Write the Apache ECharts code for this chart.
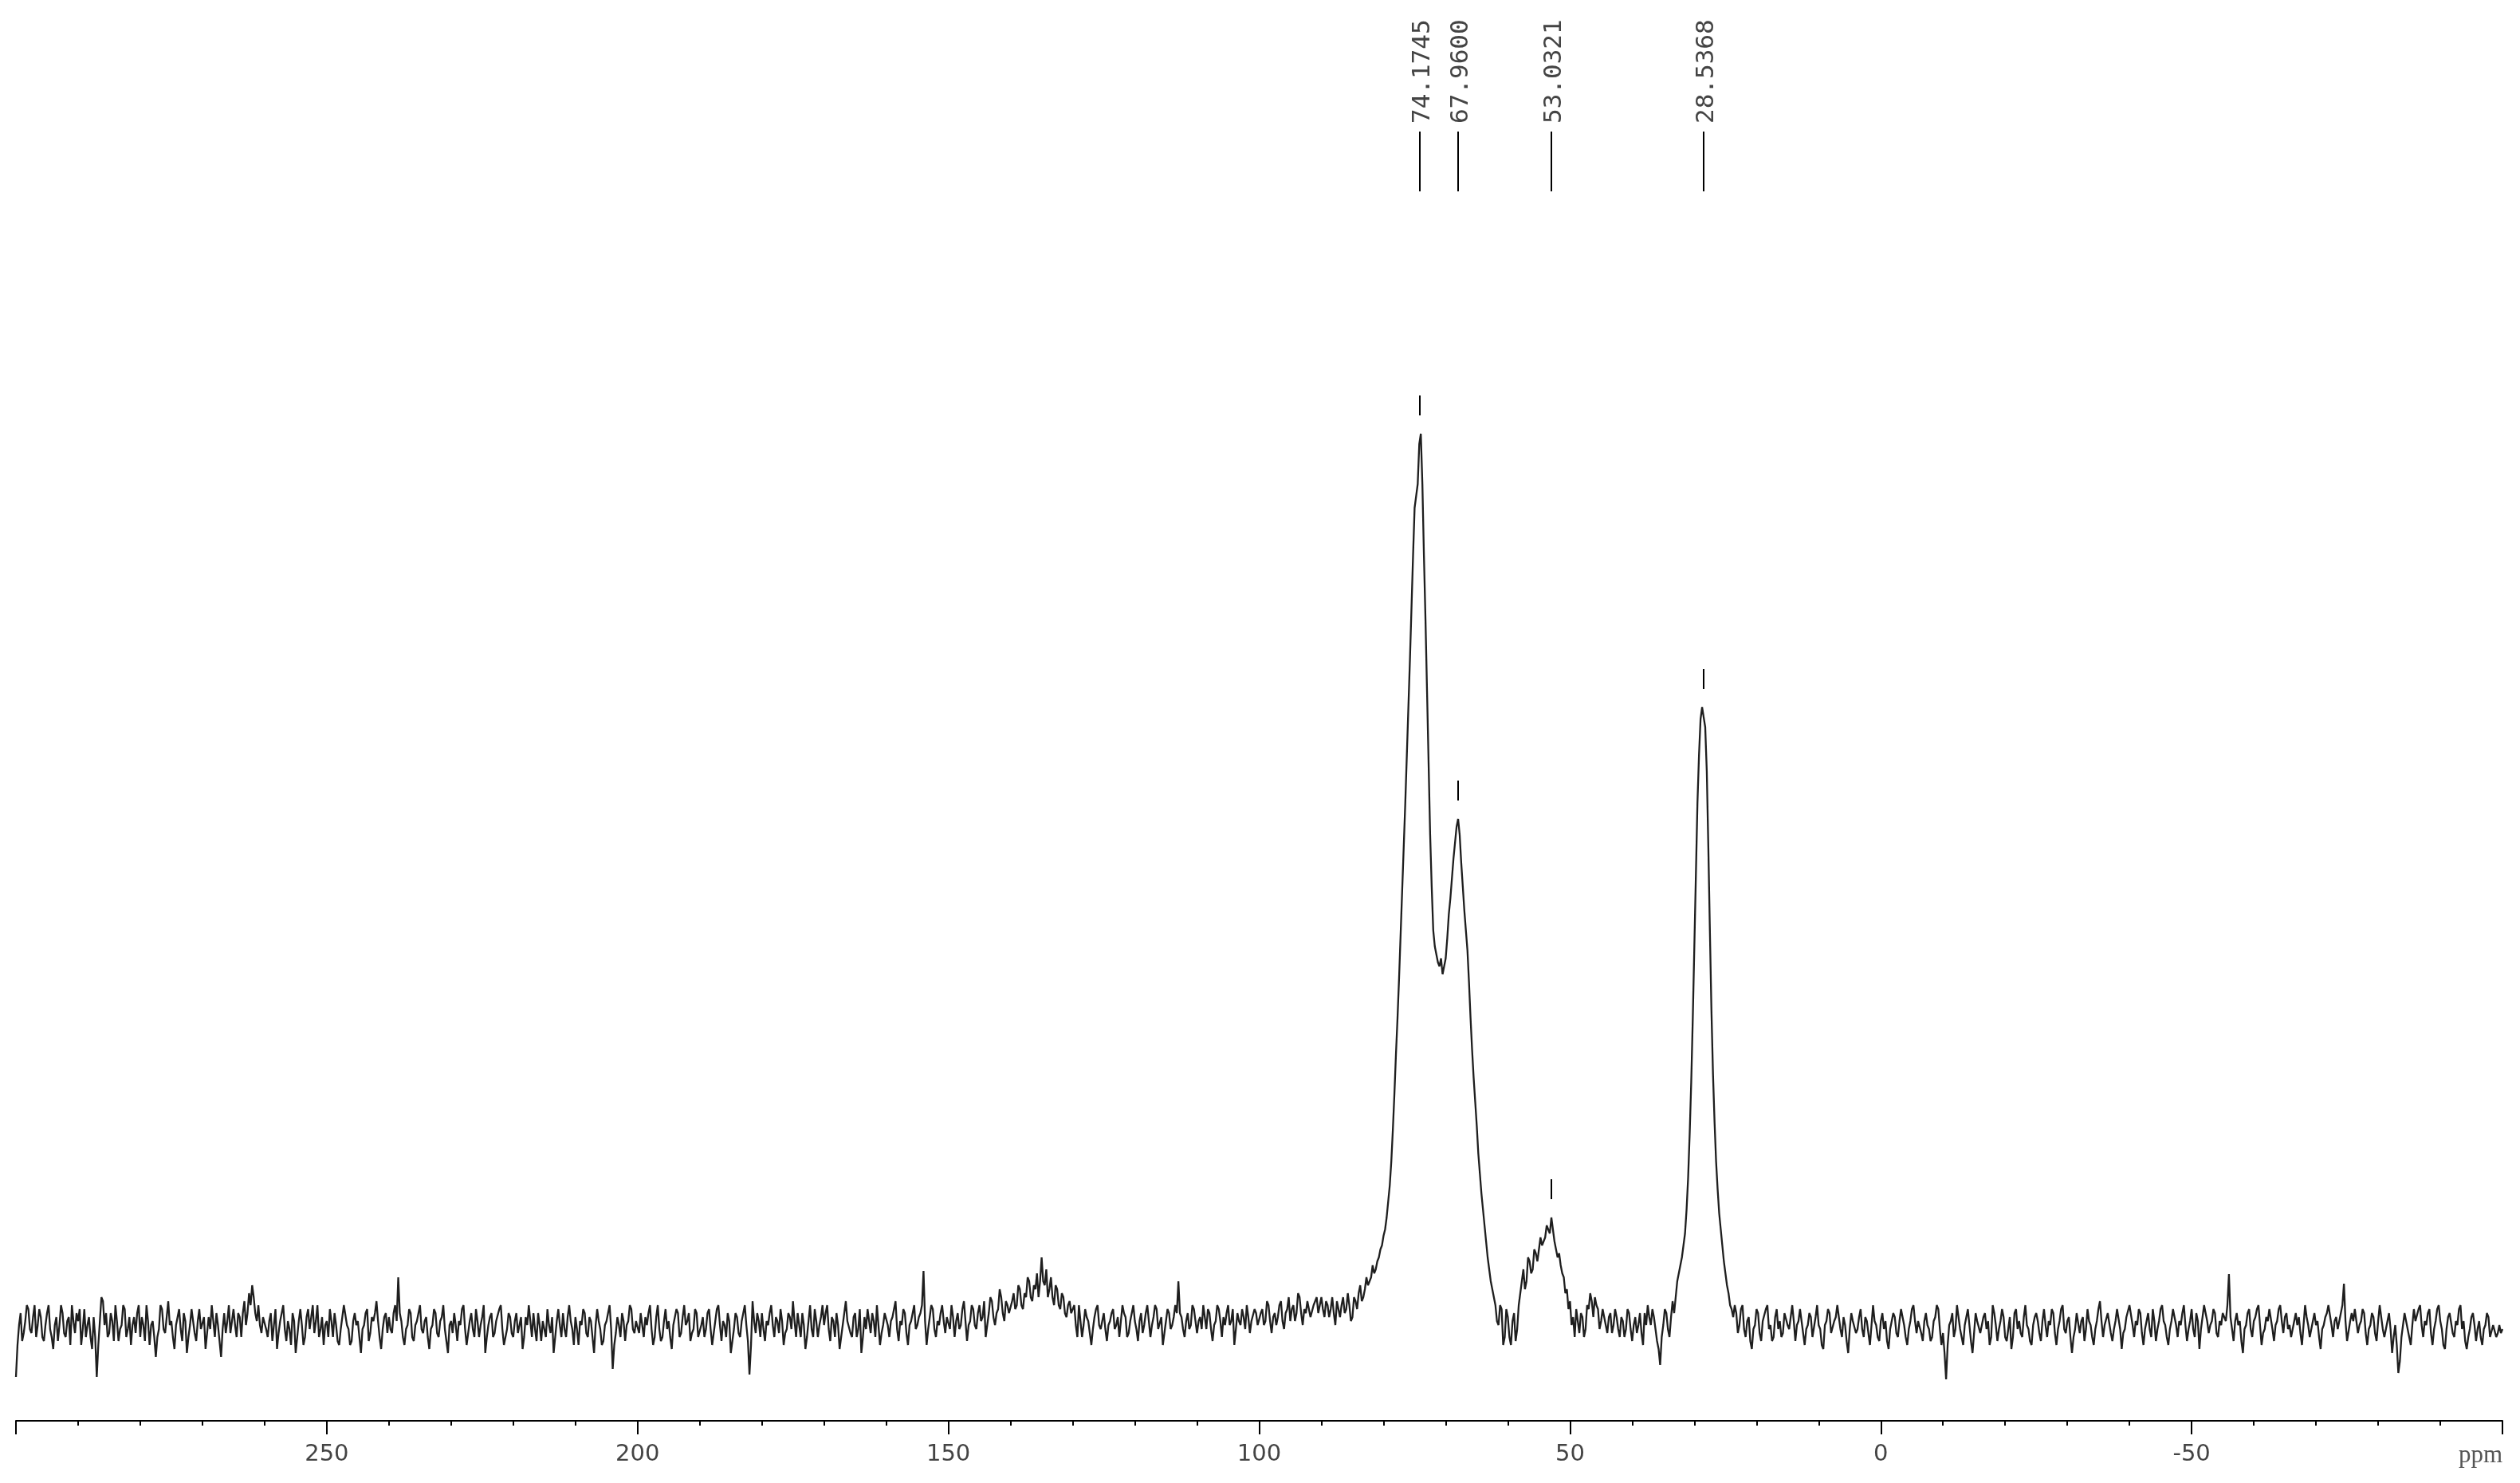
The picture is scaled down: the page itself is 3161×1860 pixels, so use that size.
<!DOCTYPE html>
<html>
<head>
<meta charset="utf-8">
<script src="https://cdn.jsdelivr.net/npm/echarts@6/dist/echarts.min.js"></script>
<style>
  html, body { margin: 0; padding: 0; background: #ffffff; }
  #chart { width: 3161px; height: 1860px; }
</style>
</head>
<body>
<div id="chart"></div>
<script>
// ---- data (intensity in arbitrary units, baseline ~0) ----
const stepPpm = 0.25;

// 300.00 ppm down to 88.25 ppm
const leftStart = 300;
const leftValues = [
  -6, -2, 0.5, 2, -1.5, -0.5, 1, 3, 2.5, 0, -0.5, 1.5, 3, -1, 0.5, 2.5, 1.5, -1, -1.5, 0.5, 2, 3, 0, -1, -2.5, 0.5, 1.5, -1.5, 0.5, 3, 2, -0.5, -1, 1, 1.5, -2, 3, 1, -0.5, 2,
  1, 2.5, -2, 0, 2.5, -1, 0.5, 1.5, -1, -2.5, 1.5, -1, -6, -2, 1, 4, 3.5, 0.5, 2, -1, -0.5, 2, 1, -1.5, 3, 1, -1.5, 0, 0.5, 3, 2.5, -1, 0, 1.5, -2, 0.5, 1.5, -0.5, 2, 3,
  -1, 1.5, 0.5, -1.5, 3, 1, -2, 0.5, 1, -1, -3.5, -1, 0, 3, 2.5, 0, -0.5, 1.5, 3.5, 0.5, 1, -1, -2.5, 0.5, 1.5, 2.5, 0, -1.5, 2, 1, -3, -1, 0.5, 2.5, 1, -0.5, -1.5, 1, 2.5, 0,
  0, 1.5, -2.5, -0.5, 1.5, 0, 3, 1, -1, 2, 0.5, -1.5, -3.5, 0, 2, -0.5, 1, 3, -0.5, 1, 2.5, 0.5, -1, 2, 1.5, -1, 2, 3.5, 0.5, 2, 4.5, 3, 5.5, 4, 2, 1, 3, 0.5, -0.5, 1.5,
  1.5, 0, -1, 1, 2, -1.5, 0.5, 2.5, -2.5, -0.5, 1, 2, 3, 0, -1.5, 1, 0, -2, 2, 1, -3, -1, 1, 2.5, 0.5, -2, -1, 1.5, 2.5, 0, 1.5, 3, -0.5, 1, 3, -1, 0, 1.5, -2, 0.5,
  1, -1, 2.5, 1, -1, 2, 0.5, -1.5, -2, 0, 1.5, 3, 3, 0.5, 0, -2, -1.5, 1, 2, 0.5, 1, -1, -3, 0, 0.5, 2, 2.5, -1.5, -0.5, 1.5, 1, 2, 3.5, 1, -1, -2.5, 0, 1.5, 2, -0.5,
  1.5, 0, -0.5, 2, 3, 1, 6.5, 2, 1, -1, -2, 0, 0.5, 2.5, 2, -1, -1.5, 0.5, 1, 2, 3, 0, -0.5, 1, 1.5, -1, -2.5, 0, 0.5, 2.5, 2, -0.5, -1, 1, 1.5, 3, 0, -1.5, -3, 0.5,
  1, -0.5, 2, 0.5, -1.5, 1, 0.5, 2.5, 3, 0, -2, -0.5, 1, 2, 0, -1, 2.5, 1, -1, 0.5, 1.5, 3, -3, -1, 0.5, 1.5, 2, -1, -0.5, 1, 1, 2.5, 3, 0, -2, -1, 0, 2, 1.5, -0.5,
  -1, 1, 2, -0.5, 0.5, 1.5, -2.5, -1, 1.5, 0.5, 3, 1, -1, 2, 0, -1.5, 2, 0.5, -1.5, 1, 1, -1, 2.5, 0.5, -0.5, 1.5, -3, -1, 1, 2.5, 0.5, -1, 2, 0, -1, 1.5, 3, 1, 0, -2,
  1.5, 0, -2, 1, 0.5, 2.5, 2, -0.5, -1, 1.5, 1, -1, -3, 0.5, 2.5, 1, 0, -2, -1.5, 0.5, 1, 2, 3, 0, -5, -2, -0.5, 1.5, 0.5, -1, 2, 1, -1.5, 0.5, 1, 3, 2.5, 0, -0.5, 1,
  1, -0.5, 2, 0.5, -1, 1.5, 0.5, 2, 3, 0, -2, -1, 1.5, 3, 0, -1.5, -1, 1, 2.5, 0, 1, -1, -2.5, 0.5, 0.5, 2.5, 2, -1, -0.5, 1.5, 3, 0.5, 1, 2, -1.5, -0.5, 0, 2.5, 2, -1,
  -1, 0.5, 1.5, -1, 0, 2, 2.5, 0, -2, -0.5, 1, 2.5, 3, 0.5, -1.5, 1, 0.5, -1, 2, 1, -3, -1.5, 0, 2, 1.5, -0.5, -1, 1, 2, 3, 0.5, -1.5, -5.7, -2, 3.5, 1, -0.5, 2, 1, -1,
  2, 0, -1.5, 1, 0.5, 2, 3, 0.5, -1, 1.5, 1, -0.5, 2.5, 1, -2, -0.5, 0, 2, 1.5, 0, 3.5, 1, -1, 2, 0.5, -1, 2, 0.5, -2.5, -1, 1, 3, 0, -1, 2.5, 1, -1, 0.5, 1.5, 3,
  0.5, 2, 3, 0, -1.5, 1.5, 1, -1, 2, 0.5, -2.5, -1, 0.5, 2, 3.5, 1, 1, -0.5, -1, 1.5, 2, -1, 0, 2.5, -3, -1, 1.5, 0, 2.5, 1, -0.5, 2, 1, -1, 3, 0.5, -2, -0.5, 0.5, 2,
  2, 0.5, -1, 1, 1.5, 2.5, 3.5, 0, -1.5, 1, 0.5, 2.5, 2, -0.5, -2, 0.5, 1, 2, 3, 0, 0.5, 1.5, 2, 3, 7.3, 1, -2, 0, 1.5, 3, 2.5, 0, -1, 1, 0.5, 2, 3, 1, -0.5, 1.5,
  1.5, 0, 3, 1.5, -1, 1, 2, 0, 0.5, 2.5, 3.5, 1, -1.5, 0.5, 1, 3, 2.5, 0.5, 0, 2, 3, 1, 1.5, 3.5, -1, 0.5, 2, 4, 3.5, 1.5, 0.5, 2, 2.5, 5, 4, 2, 1, 3.5, 3, 2,
  2, 3.5, 4.5, 2.5, 3, 5.5, 5, 3, 2.5, 4.5, 4, 6.5, 6, 4, 3.5, 5.5, 5, 7, 4, 6, 9, 6, 5.5, 7.5, 4, 5, 6.5, 4, 3, 5.5, 5, 3, 2.5, 4.5, 4, 2, 1.5, 3, 3.5, 2,
  2, 3, 0.5, -1, 3, 1, -1, 0.5, 2.5, 1.5, 1, -0.5, -2, 0, 1.5, 2.5, 3, 0.5, 0, 1, 2, 0, -1.5, 0.5, 1, 2, 2.5, 0, 0.5, 1.5, -1, 1, 3, 2, 1.5, -1, -0.5, 1, 2, 3,
  1, 0, -1.5, 1, 2, -0.5, 0.5, 2, 3, 1, -1, 0.5, 1.5, 3, 2.5, 0, 0, 1.5, -2, -0.5, 1, 2.5, 2, 0, 0.5, 1.5, 3, 2, 6, 2, 1.5, 0, -1, 1, 2, 0, 0.5, 3, 2.5, 1,
  -0.5, 1, 1.5, 0, 3, 1.5, 0, 2.5, 2, 0, -1.5, 0.5, 1, 3, 2.5, 1, -1, 1.5, 0.5, 2, 3, 0.5, 1, 2.5, -2, 0, 2, 1, 0.5, 2.5, 1.5, 0, 3, 1.5, -0.5, 1, 1, 2.5, 2, 0.5,
  0.5, 2, 2.5, 0.5, 1, 3.5, 3, 1, -0.5, 1.5, 2, 0.5, 1.5, 3, 3.5, 1, 0, 2, 2.5, 4, 1, 2.5, 3, 1, 2, 4.5, 4, 2, 0.5, 2.5, 2, 3.5, 3.5, 1.5, 1.5, 3, 3, 4, 2, 3,
  4, 2.5, 1.5, 3.5, 3, 1.5, 2.5, 4
];

// 88.00 ppm down to 24.00 ppm (resonance region)
const peakStart = 88;
const peakValues = [
  2.0, 0.5, 3.5, 2.5, 1.5, 3, 4.0, 2, 2.5, 4.5,
  3.0, 1, 1.5, 4, 3.5, 2.5, 4.5, 5.5, 3.5, 4,
  5.0, 6.5, 5.5, 6, 6.5, 8, 7.0, 7.5, 8.5, 9,
  10.0, 10.5, 11.7, 12.5, 14.0, 16, 18.0, 21, 25.0, 29.5,
  34.5, 39, 44.0, 49.5, 55.0, 60.5, 66.0, 72, 78.0, 84,
  90.5, 97, 103.0, 104.5, 106.0, 111, 112.3, 106, 97.0, 89,
  80.0, 71, 62.0, 55.5, 50.0, 48, 47.0, 46, 45.5, 46.5,
  44.5, 45.5, 46.5, 49, 52.0, 54, 56.5, 59, 61.0, 63,
  64.0, 62, 58.5, 55.5, 52.5, 50, 47.5, 43.5, 39.0, 35,
  31.5, 28.5, 25.5, 22, 19.5, 17, 15.0, 13, 11.0, 9,
  7.5, 6, 5.0, 4, 3.0, 1, 0.5, 3, 2.5, -2,
  -1.0, 2.5, 1.5, -1, -2.0, 1, 2.0, -1.5, 0.0, 3,
  4.5, 6, 7.5, 5, 6.0, 9, 8.5, 7, 7.5, 10,
  9.5, 8.5, 10.0, 11.5, 10.5, 11, 11.5, 13, 12.5, 12,
  14.0, 12.5, 11.0, 10, 9.0, 9.5, 8.0, 7, 6.5, 4.5,
  5.0, 2.5, 3.5, 0.5, 1.5, -1, 2.5, 1, -0.5, 2,
  1.5, -1, 0.0, 3, 2.5, 4.5, 3.5, 1.5, 4.0, 3,
  2.5, 0, 1.0, 2.5, 1.5, 0.5, -0.5, 1.5, 2.0, -0.5,
  0.5, 2.5, 1.5, 0, -1.0, 1.5, 1.0, -1, 0.0, 2.5,
  2.0, 0, -1.5, 0.5, 1.5, -0.5, 0.5, 2, -0.5, -2,
  2.0, 0.5, 3.0, 1.5, 0.5, 2.5, 1.5, 0, -1.5, -2.5,
  -4.5, -1, 0.5, 2.5, 2.0, 0, -1.0, 1.5, 3.5, 2,
  4.0, 6, 7.0, 8, 9.0, 10.5, 12.0, 15, 19.0, 24.5,
  31.0, 39, 48.0, 57, 66.0, 72, 76.5, 78, 78.0, 75.5,
  70.0, 60.5, 50.0, 40, 32.0, 26, 21.0, 17.5, 14.5, 12.5,
  10.5, 8.5, 7.0, 5.5, 4.5, 3, 2.5
];

// 23.75 ppm down to -100 ppm
const rightStart = 23.75;
const rightValues = [
  1.5, 3, 2, -0.5, 0.5, 2.5, 3, 0, -1, 1, 1.5, -1.5, -2.5, 0, 0.5, 2.5, 2, -0.5, -1.5, 1, 1, 2.5, 3, 0, 0.5, -1.5, -1, 1.5, 2.5, 0, 1, -1, -0.5, 2, 2, 0.5, 0, 1.5, 3, 1,
  -1.5, 0.5, 1, 2.5, 2.5, -0.5, -2, 0, 0.5, 2, 1.5, -1, -1, 1.5, 3, 0.5, 0, -2, -2.5, 0.5, 1, 2.5, 2, -0.5, -0.5, 1, 1.5, 3, 3, 0, -1, 1.5, 0.5, -1.5, -3, 0, 2, 1, 1, -0.5,
  0, 1.5, 2.5, 0, -1, 1.5, 1, -0.5, -2, 0.5, 3, 1, 0.5, -1, -1.5, 1, 2, 0, 1, -1.5, -2.5, 0, 0, 2, 1.5, -0.5, -1, 1, 2.5, 1.5, 0.5, -1, -2, 0, 1, 2.5, 3, 1, -0.5, 1,
  1, -0.5, -1.5, 1, 2, 0.5, 0, -1.5, -1, 1, 1.5, 3, 2.5, 0, -2, -0.5, -3, -6.3, -2, 0.5, 1, 2, -1, 0, 3, 1.5, 0, -1, -2, 0.5, 1.5, 2.5, 0.5, -1.5, -3, -0.5, 2, 1, 1, -0.5,
  -0.5, 1.5, 2, 0, 1, -2, -1, 3, 2, 0.5, -1.5, 0, 1, 2.5, 1.5, -1, -1.5, 0, 1.5, -2.5, -1, 2, 2.5, 0, 1, -0.5, -1, 1.5, 3, 0.5, 0, -1.5, -2, 0.5, 1.5, 2, 1, -0.5, -1.5, 1,
  2.5, 0.5, -1, 1, 0.5, 2.5, 2, -0.5, -2, 0, 1, 2.5, 3, 0, -0.5, 1, 1.5, -1, -3, -1, 0, 2, 2, -0.5, 1, 1.5, -1.5, 0, 2.5, 1, 0.5, -1, -2, 0, 1, 2.5, 3.5, 1, -1, 0.5,
  0.5, 2, 2, -0.5, -1.5, 0, 1, 2.5, 2.5, 0, -2.5, -0.5, 0, 1.5, 1.5, 3, 3, 0.5, -1, 1, 0.5, 2.5, 2, -0.5, -2, 0, 1, 2, 0, -1, 2.5, 1, -1.5, 0, 1, 2.5, 3, 1, 0.5, -1,
  -2, 0, 1, 2.5, 2.5, 0.5, -1, 1, 0.5, 2, 3, 0.5, -1.5, 0, 1, 2.5, 0, -1, 2, 1, -2.5, 0, 1.5, 3, 3, 1, -0.5, 0.5, 1, 2.5, 2, -0.5, -1, 1, 0.5, 2, 2, 1, 3, 6.9,
  1.5, 0, -1.5, 1, 2, 0.5, 1, -1.5, -3, 0, 0.5, 2, 2.5, 0, -1, 1, 1.5, 2.5, 3, 0.5, -2, -0.5, 0, 1.5, 1, 2.5, 2.5, 0, -1.5, 0.5, 1, 2.5, 3, 1, -0.5, 1.5, 2, 0, 0.5, -1,
  -1, 1, 2, 0.5, 1.5, -0.5, -2, 0.5, 3, 1.5, 0.5, -1, -1, 1, 2, 0.5, 1, -1, -2.5, 0, 0.5, 1.5, 2, 3, 3, 0.5, -1, 1, 1.5, 0, 0, 2, 3, 5.7, 1, -1.5, -1.5, 1, 2, 1,
  2.5, 1, -0.5, 0.5, 1, 2.5, 2, -0.5, -2, 0, 0.5, 2, 1.5, -0.5, -1.5, 1, 3, 1.5, 0, -1, -1, 1, 2, 0, -3, -1, 0.5, -2, -5.5, -4, -1, 0.5, 2, 1, 1, -1, -2, 0.5, 2.5, 1,
  1, 2.5, 3, 0.5, -1, 1, 0.5, 2, 2.5, -0.5, -2, 0, 1, 2.5, 3, 1, 0, -2, -2.5, 0, 1.5, 2, 2, -0.5, -1, 1, 0.5, 2.5, 3, 0, 1, -1.5, -2.5, -1, 0, 1.5, 2, 0.5, -1.5, 0,
  1, -1, -2, 0, 0.5, 2, 1.5, -1, -1, 0.5, 0.5, -1, -0.5, 0.5, -0.5, 0
];

// picked peaks
const peakShifts = [74.1745, 67.9600, 53.0321, 28.5368];
const peakLabels = ['74.1745', '67.9600', '53.0321', '28.5368'];
const peakHeights = [112.3, 64.0, 14.0, 78.0];

// axis
const axisMin = -100, axisMax = 300, axisInterval = 50;

// ---- build series ----
function toPairs(start, values) {
  return values.map((v, i) => [start - i * stepPpm, v]);
}
const spectrum = []
  .concat(toPairs(leftStart, leftValues))
  .concat(toPairs(peakStart, peakValues))
  .concat(toPairs(rightStart, rightValues));

const peakData = peakShifts.map((p, i) => [p, peakHeights[i]]);

const chart = echarts.init(document.getElementById('chart'), null, { renderer: 'canvas' });

chart.setOption({
  backgroundColor: '#ffffff',
  animation: false,
  grid: { left: 20, right: 22, top: 0, bottom: 78, containLabel: false },
  xAxis: {
    type: 'value',
    inverse: true,
    min: axisMin,
    max: axisMax,
    interval: axisInterval,
    splitLine: { show: false },
    axisLine: { show: true, onZero: false, lineStyle: { color: '#000', width: 2 } },
    axisTick: { show: true, length: 17, lineStyle: { color: '#000', width: 2 } },
    minorTick: { show: true, splitNumber: 5, length: 6, lineStyle: { color: '#000', width: 2 } },
    axisLabel: {
      margin: 28,
      color: '#444',
      fontFamily: 'DejaVu Sans',
      fontSize: 29,
      showMinLabel: true,
      showMaxLabel: true,
      alignMinLabel: 'right',
      formatter: function (v) {
        if (v === axisMax) return '';
        if (v === axisMin) return '{u|ppm}';
        return String(v);
      },
      rich: {
        u: { fontFamily: 'Liberation Serif', fontSize: 31, color: '#555' }
      }
    }
  },
  yAxis: {
    type: 'value',
    show: false,
    min: -11.5,
    max: 166.7
  },
  series: [
    {
      type: 'line',
      data: spectrum,
      showSymbol: false,
      symbol: 'none',
      lineStyle: { color: '#1e1e1e', width: 2.3 },
      z: 2
    },
    {
      type: 'custom',
      data: peakData,
      z: 3,
      renderItem: function (params, api) {
        const pt = api.coord([api.value(0), api.value(1)]);
        const x = Math.round(pt[0]);
        return {
          type: 'group',
          children: [
            { type: 'line', shape: { x1: x, y1: 165, x2: x, y2: 240 },
              style: { stroke: '#000', lineWidth: 2 } },
            { type: 'line', shape: { x1: x, y1: pt[1] - 48, x2: x, y2: pt[1] - 23 },
              style: { stroke: '#000', lineWidth: 2 } },
            { type: 'text', x: x + 4, y: 155, rotation: Math.PI / 2,
              style: { text: peakLabels[params.dataIndex], x: 0, y: 0,
                       align: 'left', verticalAlign: 'middle',
                       font: '31px "DejaVu Sans Mono"', fill: '#444' } }
          ]
        };
      }
    }
  ]
});
</script>
</body>
</html>
